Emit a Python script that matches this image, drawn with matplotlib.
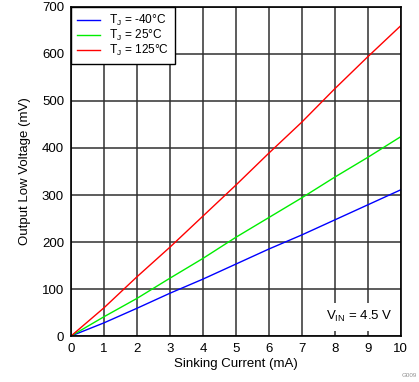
import matplotlib
matplotlib.use("Agg")
from matplotlib import pyplot as plt

plt.rcParams['font.family'] = ['Liberation Sans', 'DejaVu Sans']
plt.rcParams['mathtext.fontset'] = 'custom'
plt.rcParams['mathtext.rm'] = 'Liberation Sans'

current = [0, 1, 2, 3, 4, 5, 6, 7, 8, 9, 10]
v_m40 = [0, 28, 59, 91, 121, 153, 185, 215, 247, 279, 311]
v_25 = [0, 41, 80, 123, 165, 210, 252, 294, 338, 380, 424]
v_125 = [0, 60, 126, 189, 255, 321, 389, 455, 526, 594, 660]
labels = ['T$_\\mathregular{J}$ = -40°C', 'T$_\\mathregular{J}$ = 25°C', 'T$_\\mathregular{J}$ = 125°C']

fig = plt.figure(figsize=(4.19, 3.82), dpi=100)
ax = fig.add_axes([0.1695, 0.1204, 0.7868, 0.8613])

ax.plot(current, v_m40, color='#0000ff', lw=1.0, label=labels[0])
ax.plot(current, v_25, color='#00ee00', lw=1.0, label=labels[1])
ax.plot(current, v_125, color='#ff0000', lw=1.0, label=labels[2])

ax.set_xlim(0, 10)
ax.set_ylim(0, 700)
ax.set_xticks(range(0, 11))
ax.set_yticks(range(0, 701, 100))
ax.grid(True, color='#303030', lw=1.1)
ax.set_axisbelow(True)
ax.tick_params(length=0, labelsize=9.5, pad=5)
for s in ax.spines.values():
    s.set_color('black')
    s.set_linewidth(1.2)

ax.set_xlabel('Sinking Current (mA)', fontsize=9.5, labelpad=2)
ax.set_ylabel('Output Low Voltage (mV)', fontsize=9.5, labelpad=8)

# legend box sits in the corner and hides the grid behind it
leg = ax.legend(loc='upper left', borderaxespad=0, fancybox=False, fontsize=8.6,
                handlelength=1.9, handletextpad=0.8, labelspacing=0.0,
                borderpad=0.5, framealpha=1)
leg.get_frame().set_edgecolor('black')
leg.get_frame().set_linewidth(1.0)

ax.text(0.975, 0.035, 'V$_\\mathregular{IN}$ = 4.5 V', transform=ax.transAxes,
        ha='right', va='bottom', fontsize=9.5, zorder=5,
        bbox=dict(facecolor='white', edgecolor='none', pad=4.5))

fig.text(0.995, 0.01, 'G009', ha='right', va='bottom', fontsize=4.5, color='#909090')

fig.savefig('out.png', dpi=100)
